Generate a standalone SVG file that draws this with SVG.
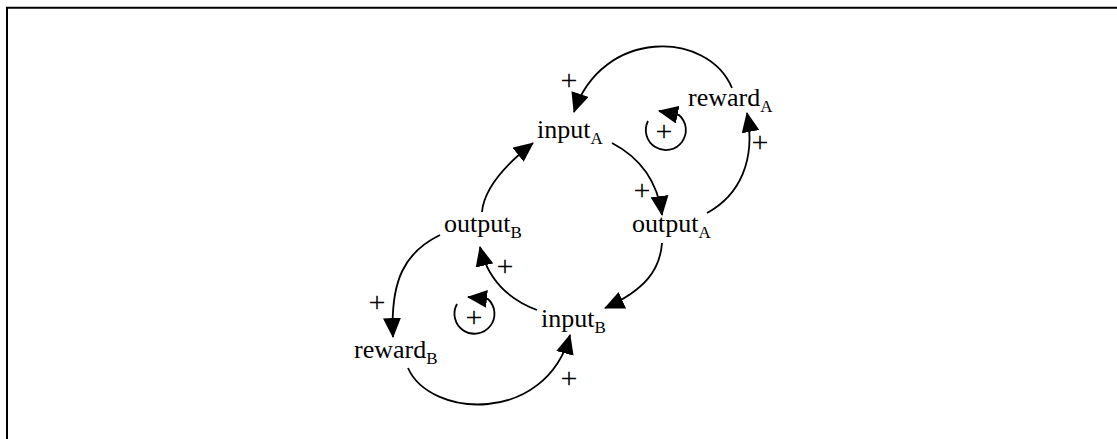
<svg xmlns="http://www.w3.org/2000/svg" width="1117" height="439" viewBox="0 0 1117 439">
  <style>
    .lbl { font-family: "Liberation Serif", "Times New Roman", serif; font-size: 26px; fill: #000; }
    .sub { font-size: 17px; }
    .plus { font-family: "Liberation Serif", "Times New Roman", serif; font-size: 30px; fill: #000; text-anchor: middle; }
    .link { fill: none; stroke: #000; stroke-width: 1.8; marker-end: url(#head); }
    .frame { fill: none; stroke: #000; stroke-width: 2; }
  </style>
  <defs>
    <marker id="head" markerUnits="userSpaceOnUse" viewBox="0 0 20 18" refX="19" refY="9" markerWidth="20" markerHeight="18" orient="auto">
      <path d="M0,0 L20,9 L0,18 z" fill="#000"/>
    </marker>
  </defs>

  <rect width="1117" height="439" fill="#fff"/>
  <!-- open frame: left and top edges -->
  <path class="frame" d="M7,439 V7.7 H1117"/>

  <!-- causal links -->
  <g id="connectors">
    <path class="link" d="M732,88 C708,30 602,28 574,112"/>
    <path class="link" d="M612,143 C635,155 657,177 662,215"/>
    <path class="link" d="M707,213 C740,195 756,160 747,113"/>
    <path class="link" d="M662,243 C660,270 645,290 605,308"/>
    <path class="link" d="M537,310 C510,300 488,280 480,247"/>
    <path class="link" d="M482,212 C484,188 505,165 533,143"/>
    <path class="link" d="M440,235 C405,252 390,280 393,337"/>
    <path class="link" d="M408,368 C430,418 545,425 570,335"/>
    <!-- reinforcing loop symbols -->
    <path class="link" d="M648,121 A20,20 0 1 0 679,115 L659,111"/>
    <path class="link" d="M457,304 A20,20 0 1 0 488,299 L468,297"/>
  </g>

  <!-- polarity signs -->
  <g id="polarities">
    <text class="plus" x="569" y="90">+</text>
    <text class="plus" x="664" y="141">+</text>
    <text class="plus" x="760" y="152">+</text>
    <text class="plus" x="642" y="200">+</text>
    <text class="plus" x="505" y="276">+</text>
    <text class="plus" x="377" y="312">+</text>
    <text class="plus" x="474" y="327">+</text>
    <text class="plus" x="569" y="388">+</text>
  </g>

  <g id="inputA"><text class="lbl" x="537" y="138">input<tspan class="sub" dy="6">A</tspan></text></g>
  <g id="rewardA"><text class="lbl" x="688" y="106">reward<tspan class="sub" dy="6">A</tspan></text></g>
  <g id="outputB"><text class="lbl" x="444" y="232">output<tspan class="sub" dy="6">B</tspan></text></g>
  <g id="outputA"><text class="lbl" x="632" y="232">output<tspan class="sub" dy="6">A</tspan></text></g>
  <g id="inputB"><text class="lbl" x="541" y="327">input<tspan class="sub" dy="6">B</tspan></text></g>
  <g id="rewardB"><text class="lbl" x="354" y="358">reward<tspan class="sub" dy="6">B</tspan></text></g>
</svg>
